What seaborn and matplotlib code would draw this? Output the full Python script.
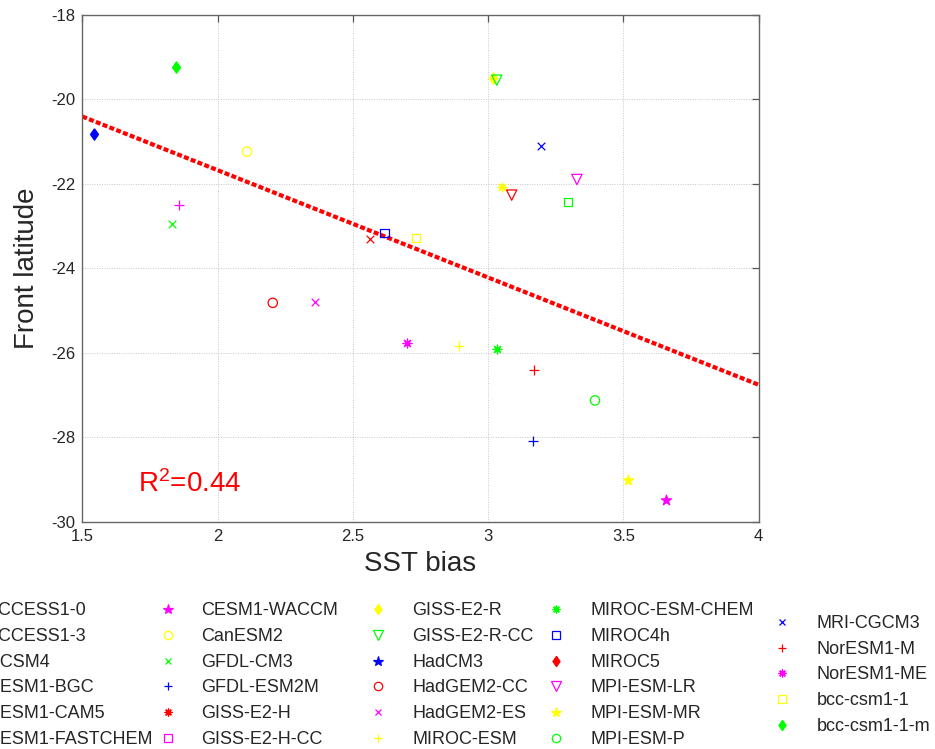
import numpy as np
import pandas as pd
import matplotlib
matplotlib.use('Agg')
import matplotlib.pyplot as plt
import seaborn as sns
from matplotlib.lines import Line2D

# CMIP5 models, SST bias vs front latitude
models = ['ACCESS1-0', 'ACCESS1-3', 'CCSM4', 'CESM1-BGC', 'CESM1-CAM5',
          'CESM1-FASTCHEM', 'CESM1-WACCM', 'CanESM2', 'GFDL-CM3', 'GFDL-ESM2M',
          'GISS-E2-H', 'GISS-E2-H-CC', 'GISS-E2-R', 'GISS-E2-R-CC', 'HadCM3',
          'HadGEM2-CC', 'HadGEM2-ES', 'MIROC-ESM', 'MIROC-ESM-CHEM', 'MIROC4h',
          'MIROC5', 'MPI-ESM-LR', 'MPI-ESM-MR', 'MPI-ESM-P', 'MRI-CGCM3',
          'NorESM1-M', 'NorESM1-ME', 'bcc-csm1-1', 'bcc-csm1-1-m']
sst_bias = [2.564, 1.859, 3.053, 3.295, 1.544,
            3.087, 3.659, 2.109, 1.831, 3.166,
            np.nan, np.nan, 3.018, 3.032, np.nan,
            2.204, 2.359, 2.891, 3.032, 2.617,
            np.nan, 3.328, 3.517, 3.395, 3.197,
            3.170, 2.701, 2.733, 1.846]
front_lat = [-23.31, -22.50, -22.08, -22.43, -20.83,
             -22.27, -29.49, -21.24, -22.95, -28.08,
             np.nan, np.nan, -19.49, -19.55, np.nan,
             -24.82, -24.81, -25.85, -25.92, -23.17,
             np.nan, -21.90, -29.02, -27.13, -21.10,
             -26.41, -25.77, -23.29, -19.24]

# regression line as drawn in the original (fit incl. models off the plot)
fit_slope = -2.54
fit_intercept = -16.60
r2_text = '0.44'

# matlab style colour / marker cycles
color_cycle = ['#ff0000', '#ff00ff', '#ffff00', '#00ff00', '#0000ff']
marker_cycle = ['x', '+', 'asterisk', 's', 'd', 'v', 'p', 'o']

diamond = [(0, 1), (0.7, 0), (0, -1), (-0.7, 0), (0, 1)]
marker_specs = {
    'x': dict(marker='x', s=30, open=False, line=True),
    '+': dict(marker='+', s=45, open=False, line=True),
    'asterisk': dict(marker=(8, 2, 0), s=40, open=False, line=True),
    's': dict(marker='s', s=38, open=True, line=False),
    'd': dict(marker=diamond, s=68, open=False, line=False),
    'v': dict(marker='v', s=55, open=True, line=False),
    'p': dict(marker='*', s=58, open=False, line=False),
    'o': dict(marker='o', s=45, open=True, line=False),
}

df = pd.DataFrame({'model': models, 'sst': sst_bias, 'lat': front_lat})
df['color'] = [color_cycle[i % 5] for i in range(len(df))]
df['mk'] = [marker_cycle[i % 8] for i in range(len(df))]

sns.set_style('white')
plt.rcParams['font.family'] = ['Liberation Sans', 'DejaVu Sans']
plt.rcParams['mathtext.fontset'] = 'custom'
plt.rcParams['mathtext.rm'] = 'Liberation Sans'
plt.rcParams['axes.unicode_minus'] = False

W, H = 935, 749
fig = plt.figure(figsize=(W / 100, H / 100), dpi=100)
ax = fig.add_axes([82.3 / W, 1 - 521.7 / H, 676.4 / W, 507 / H])

# scatter, one call per model
for _, row in df.iterrows():
    if np.isnan(row['sst']):
        continue
    spec = marker_specs[row['mk']]
    kw = dict(marker=spec['marker'], s=spec['s'], color=row['color'],
              linewidth=0.9, legend=False, zorder=3)
    if not spec['line']:
        kw['edgecolor'] = row['color']
        if spec['open']:
            kw['facecolor'] = 'none'
    sns.scatterplot(x=[row['sst']], y=[row['lat']], ax=ax, **kw)

# regression line
xs = np.array([1.5, 4.0])
ax.plot(xs, fit_slope * xs + fit_intercept, color='red', lw=3.0,
        linestyle=(0, (1.2, 0.55)), dash_capstyle='butt', zorder=2)

ax.text(0.082, 0.059, r'$\mathregular{R^2}$=' + r2_text, transform=ax.transAxes,
        color='red', fontsize=20, ha='left', va='baseline')

ax.set_xlim(1.5, 4)
ax.set_ylim(-30, -18)
ax.set_xticks(np.arange(1.5, 4.01, 0.5))
ax.set_xticklabels(['1.5', '2', '2.5', '3', '3.5', '4'])
ax.set_yticks(np.arange(-30, -17.9, 2))
ax.grid(True, linestyle=(0, (1, 1.5)), color='#c8c8c8', lw=0.7)
ax.tick_params(direction='in', top=True, right=True, length=5, width=0.9,
               color='#555555', labelsize=12, pad=5)
for sp in ax.spines.values():
    sp.set_color('#666666')
    sp.set_linewidth(1.0)

ax.set_xlabel('SST bias', fontsize=20)
ax.set_ylabel('Front latitude', fontsize=20)
ax.xaxis.set_label_coords(0.5, -0.058)
ax.yaxis.set_label_coords(-0.062, 0.5)

# legend, hand laid out in columns like the original
col_marker_x = [-48, 168, 378, 556.3, 782.3]
col_text_x = [-13, 201, 412, 591, 816.7]
col_first_base = [615, 615, 615, 615, 627.7]
col_rows = [6, 6, 6, 6, 5]
row_step = 25.8
k = 0
for ci in range(5):
    for ri in range(col_rows[ci]):
        row = df.iloc[k]
        spec = marker_specs[row['mk']]
        base = col_first_base[ci] + ri * row_step
        fig.text(col_text_x[ci] / W, 1 - base / H, row['model'], fontsize=13,
                 ha='left', va='baseline')
        fc = 'none' if spec['open'] else row['color']
        fig.add_artist(Line2D([col_marker_x[ci] / W], [1 - (base - 6) / H],
                              transform=fig.transFigure, linestyle='none',
                              marker=spec['marker'], markersize=np.sqrt(spec['s']) * 0.9,
                              color=row['color'], markerfacecolor=fc,
                              markeredgecolor=row['color'], markeredgewidth=0.9))
        k += 1

fig.savefig('out.png', dpi=100)
